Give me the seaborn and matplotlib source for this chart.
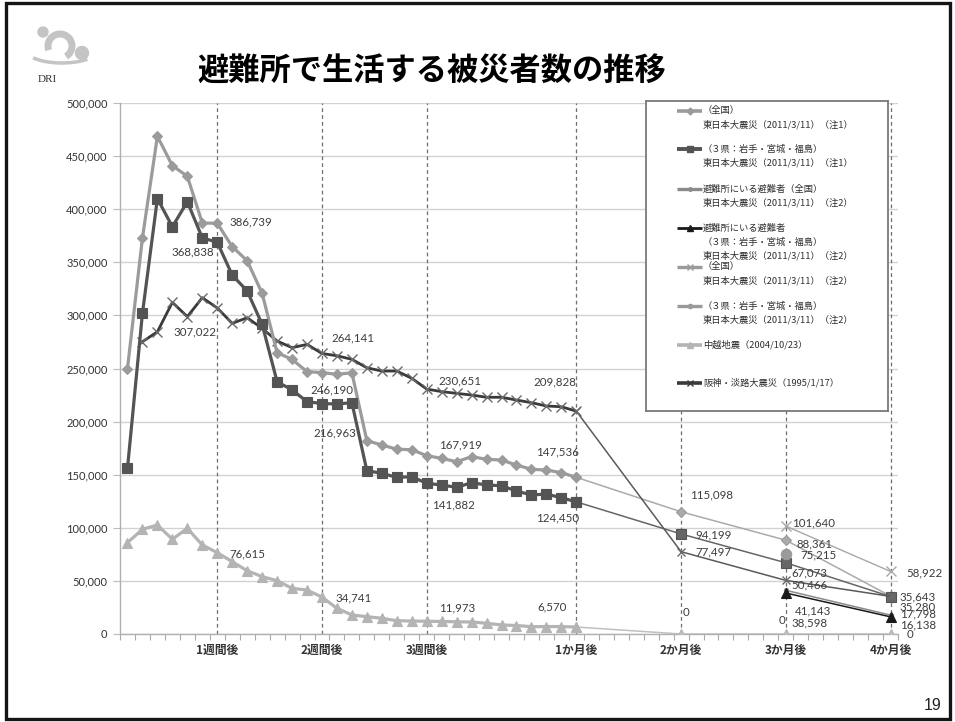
import matplotlib
matplotlib.use("Agg")
import matplotlib.pyplot as plt
import seaborn as sns
import numpy as np
from matplotlib.patches import Rectangle, Circle, Arc

sns.set_theme(style="white")
plt.rcParams['font.family'] = ['Noto Sans CJK JP', 'DejaVu Sans']

# ---------------- data ----------------
title = "避難所で生活する被災者数の推移"
day_idx = list(range(31))
hanshin_day_idx = list(range(1, 31))
month_idx = [30, 37, 44, 51]
late_idx = [44, 51]
tick_idx = [6, 13, 20, 30, 37, 44, 51]
tick_labels = ["1週間後", "2週間後", "3週間後", "1か月後", "2か月後", "3か月後", "4か月後"]

zenkoku1_day = [250000, 373000, 468653, 441000, 431000, 387000, 386739, 364700, 351500,
                320800, 264900, 258600, 247000, 246190, 244500, 246000, 182000, 178000,
                174000, 173500, 167919, 165400, 162200, 167000, 164500, 163800, 159100,
                155100, 154400, 151900, 147536]
zenkoku1_month = [147536, 115098, 88361, 35643]

sanken1_day = [156000, 302000, 410000, 383500, 407000, 373000, 368838, 338000, 323000,
               291600, 237600, 229800, 218800, 216963, 216600, 217800, 153800, 151300,
               147500, 148100, 141882, 140300, 138100, 142500, 140300, 139600, 134600,
               130900, 131800, 128300, 124450]
sanken1_month = [124450, 94199, 67073, 35280]

hanshin_day = [275200, 284600, 312300, 298800, 316678, 307022, 292500, 297800, 287800,
               275900, 269600, 272700, 264141, 262000, 258600, 250700, 247600, 247600,
               240800, 230651, 228200, 226600, 225000, 222900, 222900, 220300, 217800,
               214700, 214000, 209828]
hanshin_month = [209828, 77497, 50466, 35400]

chuetsu_day = [86000, 98600, 102600, 89200, 99500, 83800, 76615, 68100, 59600, 54000,
               50200, 43000, 41400, 34741, 24200, 17900, 16300, 14800, 12500, 12200,
               11973, 11800, 11500, 11300, 10100, 8500, 8000, 6900, 7000, 7000, 6570]
chuetsu_month = [6570, 0, 0, 0]

shelter_zenkoku2 = [41143, 17798]
shelter_sanken2 = [38598, 16138]
zenkoku2 = [101640, 58922]
sanken2 = [75215]
sanken2_idx = [44]

legend_labels = [
    ["（全国）", "東日本大震災（2011/3/11）（注1）"],
    ["（３県：岩手・宮城・福島）", "東日本大震災（2011/3/11）（注1）"],
    ["避難所にいる避難者（全国）", "東日本大震災（2011/3/11）（注2）"],
    ["避難所にいる避難者", "（３県：岩手・宮城・福島）", "東日本大震災（2011/3/11）（注2）"],
    ["（全国）", "東日本大震災（2011/3/11）（注2）"],
    ["（３県：岩手・宮城・福島）", "東日本大震災（2011/3/11）（注2）"],
    ["中越地震（2004/10/23）"],
    ["阪神・淡路大震災（1995/1/17）"],
]

# ---------------- figure ----------------
W, H = 955, 722
fig = plt.figure(figsize=(W / 100, H / 100), dpi=100)
fig.patch.set_facecolor("white")
ax = fig.add_axes([120 / W, 1 - 634 / H, (898 - 120) / W, (634 - 103) / H])
ax.set_facecolor("white")

C_ZEN = "#9b9b9b"
C_SAN = "#545454"
C_HAN = "#3a3a3a"
C_CHU = "#b4b4b4"


def line(x, y, color, lw, marker, ms, mec=None, mew=0.8, z=3):
    sns.lineplot(x=x, y=y, ax=ax, color=color, linewidth=lw, marker=marker,
                 markersize=ms, markeredgecolor=mec or color, markerfacecolor=color,
                 markeredgewidth=mew, zorder=z, errorbar=None, sort=False)


# monthly (thin) connections
line(month_idx, zenkoku1_month, "#aaaaaa", 1.1, "D", 5.5, mec=C_ZEN, z=3)
line(month_idx, sanken1_month, "#666666", 1.1, "s", 7.5, mec=C_SAN, z=3)
line(month_idx, hanshin_month, "#5a5a5a", 1.1, "x", 6, mec="#6a6a6a", mew=1.0, z=3)
line(month_idx, chuetsu_month, "#c0c0c0", 1.1, "^", 7, mec=C_CHU, z=3)
line(late_idx, zenkoku2, "#a8a8a8", 1.0, "x", 7, mec="#a8a8a8", mew=1.0, z=3)
line(late_idx, shelter_zenkoku2, "#8a8a8a", 1.1, "o", 3, z=3)
line(late_idx, shelter_sanken2, "#1a1a1a", 1.1, "^", 6.5, z=4)
line(sanken2_idx, sanken2, "#9a9a9a", 1.0, "o", 7.5, z=3)

# daily (thick) lines
line(day_idx, chuetsu_day, C_CHU, 2.3, "^", 7, z=4)
line(hanshin_day_idx, hanshin_day, C_HAN, 2.0, "x", 7, mec="#6a6a6a", mew=1.0, z=5)
line(day_idx, zenkoku1_day, C_ZEN, 2.3, "D", 5.5, z=5)
line(day_idx, sanken1_day, C_SAN, 2.3, "s", 7.5, z=6)

# axes styling
ax.set_xlim(-0.5, 51.5)
ax.set_ylim(0, 500000)
ax.set_yticks(np.arange(0, 500001, 50000))
ax.set_yticklabels([f"{v:,}" for v in np.arange(0, 500001, 50000)],
                   fontsize=8, color="#333333", family=["Lato", "DejaVu Sans"])
ax.set_xticks(tick_idx)
ax.set_xticklabels(tick_labels, fontsize=8.5, fontweight="bold", color="#333333")
ax.set_xticks(np.arange(-0.5, 52, 1), minor=True)
ax.tick_params(axis="x", which="major", length=0, pad=7)
ax.tick_params(axis="x", which="minor", length=4, width=0.8, color="#aaaaaa", direction="out",
               bottom=True)
ax.tick_params(axis="y", which="major", length=5, width=0.8, color="#bbbbbb", direction="out",
               left=True, pad=4)
ax.yaxis.grid(True, color="#d2d2d2", linewidth=1.0)
ax.xaxis.grid(False)
ax.set_axisbelow(True)
for s in ["top", "right"]:
    ax.spines[s].set_visible(False)
for s in ["left", "bottom"]:
    ax.spines[s].set_color("#b0b0b0")
    ax.spines[s].set_linewidth(1.0)
ax.set_xlabel("")
ax.set_ylabel("")

for t in tick_idx:
    ax.axvline(t, color="#6e6e6e", linewidth=0.9, linestyle=(0, (3, 2.5)), zorder=2)


# data labels
def lab(xs, ys, i, dx, dy):
    ax.annotate(f"{ys[i]:,}", xy=(xs[i], ys[i]), xytext=(dx, dy), textcoords="offset pixels",
                ha="left", va="center", fontsize=8.3, color="#3c3c3c",
                family=["Lato", "DejaVu Sans"], zorder=8, annotation_clip=False)


lab(day_idx, zenkoku1_day, 6, 12, 1)
lab(day_idx, sanken1_day, 6, -46, -10)
lab(hanshin_day_idx, hanshin_day, 5, -44, -24)
lab(hanshin_day_idx, hanshin_day, 12, 9, 16)
lab(day_idx, zenkoku1_day, 13, -12, -17)
lab(day_idx, sanken1_day, 13, -9, -29)
lab(day_idx, chuetsu_day, 6, 12, -1.5)
lab(day_idx, chuetsu_day, 13, 13, -1)
lab(hanshin_day_idx, hanshin_day, 19, 12, 8)
lab(day_idx, zenkoku1_day, 20, 12, 11)
lab(day_idx, sanken1_day, 20, 5, -22)
lab(day_idx, chuetsu_day, 20, 12, 13)
lab(hanshin_day_idx, hanshin_day, 29, -43, 29)
lab(day_idx, zenkoku1_day, 30, -40, 25)
lab(day_idx, sanken1_day, 30, -40, -16)
lab(day_idx, chuetsu_day, 30, -39, 20)
lab(month_idx, zenkoku1_month, 1, 9, 17)
lab(month_idx, sanken1_month, 1, 14, -1)
lab(month_idx, hanshin_month, 1, 14, 0)
lab(month_idx, chuetsu_month, 1, 2, 22)
lab(late_idx, zenkoku2, 0, 6, 3)
lab(month_idx, zenkoku1_month, 2, 11, -4)
lab(sanken2_idx, sanken2, 0, 15, -1)
lab(month_idx, sanken1_month, 2, 6, -10)
lab(month_idx, hanshin_month, 2, 6, -5)
lab(late_idx, shelter_zenkoku2, 0, 9, -21)
lab(late_idx, shelter_sanken2, 0, 6, -30)
lab(month_idx, chuetsu_month, 2, -7, 14)
lab(late_idx, zenkoku2, 1, 16, -1)
lab(month_idx, zenkoku1_month, 3, 9, -1)
lab(month_idx, sanken1_month, 3, 9, -10)
lab(late_idx, shelter_zenkoku2, 1, 9, 1)
lab(late_idx, shelter_sanken2, 1, 9, -8)
lab(month_idx, chuetsu_month, 3, 16, 0)

# ---------------- legend box ----------------
LX0, LY0, LX1, LY1 = 646, 101, 888, 411
lax = fig.add_axes([LX0 / W, 1 - LY1 / H, (LX1 - LX0) / W, (LY1 - LY0) / H], zorder=10)
lax.set_xlim(0, LX1 - LX0)
lax.set_ylim(LY1 - LY0, 0)
lax.set_facecolor("white")
lax.set_xticks([])
lax.set_yticks([])
for s in lax.spines.values():
    s.set_color("#7a7a7a")
    s.set_linewidth(1.3)

leg_styles = [
    dict(color=C_ZEN, lw=2.6, marker="D", ms=3.5),
    dict(color=C_SAN, lw=2.8, marker="s", ms=4),
    dict(color="#8a8a8a", lw=2.4, marker="o", ms=2.5),
    dict(color="#1a1a1a", lw=2.0, marker="^", ms=4),
    dict(color="#9a9a9a", lw=2.4, marker="x", ms=4),
    dict(color="#9a9a9a", lw=2.4, marker="o", ms=3),
    dict(color=C_CHU, lw=2.6, marker="^", ms=4),
    dict(color=C_HAN, lw=2.6, marker="x", ms=4),
]
row_y = [10, 48, 88, 127, 166, 205, 244, 282]
for labels_, st, y0 in zip(legend_labels, leg_styles, row_y):
    lax.plot([31, 56], [y0, y0], color=st["color"], lw=st["lw"], solid_capstyle="butt")
    lax.plot([43.5], [y0], marker=st["marker"], ms=st["ms"], color=st["color"],
             mec=st["color"], mew=1)
    for k, txt in enumerate(labels_):
        lax.text(57, y0 + k * 13.8, txt, ha="left", va="center", fontsize=6.7,
                 color="#2e2e2e")

# ---------------- title, logo, page number, frame ----------------
fig.text(432 / W, 1 - 72 / H, title, ha="center", va="center", fontsize=22.5,
         fontweight="bold", color="black")

logo = fig.add_axes([20 / W, 1 - 90 / H, 80 / W, 70 / H])
logo.set_xlim(0, 80)
logo.set_ylim(70, 0)
logo.axis("off")
gray = "#c4c4c4"
logo.add_patch(Circle((23, 12), 5, color=gray))
logo.add_patch(Circle((62, 33), 6.5, color=gray))
logo.add_patch(Arc((40, 26), 24, 24, theta1=-200, theta2=60, color=gray, lw=5))
logo.add_patch(Arc((42, 30), 72, 26, theta1=20, theta2=165, color=gray, lw=2.5))
logo.text(27, 60, "DRI", ha="center", va="center", fontsize=8, color="#333333",
          family=["Liberation Serif", "DejaVu Serif"])

fig.text(933 / W, 1 - 706 / H, "19", ha="center", va="center", fontsize=11.5,
         color="#222222", family=["Liberation Sans", "DejaVu Sans"])

fig.add_artist(Rectangle((6 / W, 3 / H), (950 - 6) / W, (719 - 3) / H,
                         transform=fig.transFigure, fill=False, ec="#151515", lw=2.4))

fig.savefig("out.png", dpi=100, facecolor="white")
